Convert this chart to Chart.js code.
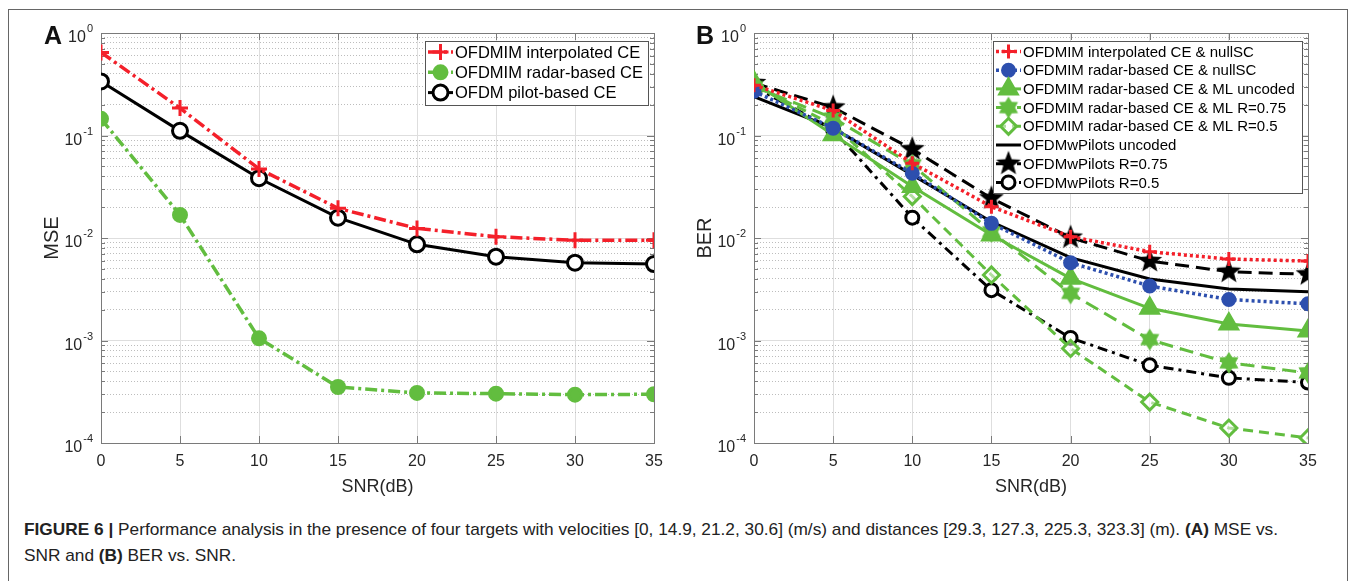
<!DOCTYPE html>
<html>
<head>
<meta charset="utf-8">
<script src="https://cdn.jsdelivr.net/npm/chart.js@4/dist/chart.umd.min.js"></script>
<style>
body { margin: 0; background: #fff; width: 1356px; height: 581px; overflow: hidden; position: relative; font-family: "Liberation Sans", Arial, sans-serif; }
#frame { position: absolute; left: 8px; top: 9px; width: 1338px; height: 620px; border: 1px solid #666; }
.wrap { position: absolute; top: 0; width: 678px; height: 500px; }
#wrapA { left: 0; }
#wrapB { left: 678px; }
.tag { position: absolute; top: 21px; font-weight: bold; font-size: 25px; color: #111; }
#caption { position: absolute; left: 24px; top: 517px; font-size: 17px; line-height: 26px; color: #222; white-space: nowrap; transform-origin: 0 0; }
#caption b { font-weight: bold; }
</style>
</head>
<body>
<div id="frame"></div>
<div class="wrap" id="wrapA"><canvas id="chartA" width="678" height="500"></canvas></div>
<div class="wrap" id="wrapB"><canvas id="chartB" width="678" height="500"></canvas></div>
<div class="tag" style="left:44px">A</div>
<div class="tag" style="left:696px">B</div>
<div id="caption"><span id="line1"><b>FIGURE 6 | </b>Performance analysis in the presence of four targets with velocities [0, 14.9, 21.2, 30.6] (m/s) and distances [29.3, 127.3, 225.3, 323.3] (m). <b>(A)</b> MSE vs.</span><br>SNR and <b>(B)</b> BER vs. SNR.</div>
<script>
// SNR points (x axis)
var snr = [0, 5, 10, 15, 20, 25, 30, 35];
var xTicks = [0, 5, 10, 15, 20, 25, 30, 35];
var yTickVals = [1e-4, 1e-3, 1e-2, 1e-1, 1];
var yTickExp = ['-4', '-3', '-2', '-1', '0'];

// panel A : MSE
var mseInterp = [0.647, 0.185, 0.0472, 0.0195, 0.0124, 0.0103, 0.0095, 0.0095];
var mseRadar  = [0.1455, 0.0168, 0.00105, 0.000352, 0.000308, 0.000303, 0.000296, 0.000299];
var msePilot  = [0.337, 0.111, 0.0383, 0.0158, 0.00867, 0.00657, 0.00574, 0.00557];

// panel B : BER
var berInterpNull = [0.31, 0.175, 0.0537, 0.0202, 0.0103, 0.00735, 0.00623, 0.00596];
var berRadarNull  = [0.27, 0.118, 0.0428, 0.0139, 0.00574, 0.0034, 0.00251, 0.00228];
var berRadarMlUnc = [0.33, 0.1015, 0.0318, 0.0107, 0.00404, 0.00206, 0.00145, 0.00124];
var berRadarMl075 = [0.30, 0.148, 0.0517, 0.0115, 0.00288, 0.00102, 0.000605, 0.000483];
var berRadarMl05  = [0.31, 0.127, 0.0254, 0.00436, 0.000836, 0.000251, 0.00014, 0.000112];
var berPilotUnc   = [0.24, 0.118, 0.0413, 0.0144, 0.00643, 0.00398, 0.00318, 0.00299];
var berPilot075   = [0.325, 0.188, 0.0735, 0.0244, 0.0101, 0.00596, 0.00469, 0.00442];
var berPilot05    = [0.30, 0.114, 0.0158, 0.0031, 0.00106, 0.000574, 0.000432, 0.000389];

var RED = '#f4202a', GREEN = '#62bd3f', BLUE = '#2d4fae', BLACK = '#000';
var FONT = '"Liberation Sans", Arial, sans-serif';

function pts(arr) { return arr.map(function (v, i) { return { x: snr[i], y: v }; }); }

// minor grid positions 2..9 of every decade
var minorVals = [];
for (var d = -4; d < 0; d++) for (var m = 2; m <= 9; m++) minorVals.push(m * Math.pow(10, d));

// custom marker shapes
function makeStar(r, color) {
  var c = document.createElement('canvas');
  c.width = c.height = 2 * r + 2;
  var g = c.getContext('2d');
  g.translate(r + 1, r + 1);
  g.beginPath();
  for (var i = 0; i < 10; i++) {
    var rr = i % 2 ? r * 0.42 : r;
    var a = -Math.PI / 2 + i * Math.PI / 5;
    g.lineTo(rr * Math.cos(a), rr * Math.sin(a));
  }
  g.closePath();
  g.fillStyle = color; g.fill();
  return c;
}
function makeHex(r, color) {
  var c = document.createElement('canvas');
  c.width = c.height = 2 * r + 2;
  var g = c.getContext('2d');
  g.translate(r + 1, r + 1);
  g.beginPath();
  for (var i = 0; i < 12; i++) {
    var rr = i % 2 ? r * 0.6 : r;
    var a = -Math.PI / 2 + i * Math.PI / 6;
    g.lineTo(rr * Math.cos(a), rr * Math.sin(a));
  }
  g.closePath();
  g.fillStyle = color; g.fill();
  return c;
}
var starImg = makeStar(13, BLACK);
var hexImg = makeHex(11, GREEN);

// superscript decade labels + matlab style box
var axisDeco = {
  id: 'axisDeco',
  beforeDatasetsDraw: function (chart) {
    var ctx = chart.ctx, a = chart.chartArea, y = chart.scales.y, x = chart.scales.x;
    ctx.save();
    ctx.strokeStyle = '#7a7a7a';
    ctx.lineWidth = 1;
    ctx.beginPath();
    minorVals.forEach(function (v) {
      var p = Math.round(y.getPixelForValue(v)) + 0.5;
      ctx.moveTo(a.left, p); ctx.lineTo(a.left + 4, p);
      ctx.moveTo(a.right, p); ctx.lineTo(a.right - 4, p);
    });
    yTickVals.forEach(function (v) {
      var p = Math.round(y.getPixelForValue(v)) + 0.5;
      ctx.moveTo(a.left, p); ctx.lineTo(a.left + 7, p);
      ctx.moveTo(a.right, p); ctx.lineTo(a.right - 7, p);
    });
    xTicks.forEach(function (v) {
      var p = Math.round(x.getPixelForValue(v)) + 0.5;
      ctx.moveTo(p, a.bottom); ctx.lineTo(p, a.bottom - 7);
      ctx.moveTo(p, a.top); ctx.lineTo(p, a.top + 7);
    });
    ctx.stroke();
    ctx.strokeRect(Math.round(a.left) + 0.5, Math.round(a.top) + 0.5, Math.round(a.right - a.left), Math.round(a.bottom - a.top));
    ctx.restore();
  },
  afterDraw: function (chart) {
    var ctx = chart.ctx, y = chart.scales.y, a = chart.chartArea;
    ctx.save();
    ctx.fillStyle = '#262626';
    ctx.textBaseline = 'middle';
    ctx.textAlign = 'left';
    yTickVals.forEach(function (v, i) {
      var p = y.getPixelForValue(v);
      ctx.font = '11px ' + FONT;
      var ew = ctx.measureText(yTickExp[i]).width;
      ctx.font = '16px ' + FONT;
      var bw = ctx.measureText('10').width;
      var right = a.left - 8;
      ctx.fillText('10', right - ew - bw - 1, p + 5);
      ctx.font = '11px ' + FONT;
      ctx.fillText(yTickExp[i], right - ew, p - 4);
    });
    ctx.restore();
  }
};

// legend box drawn inside the axes
var boxLegend = {
  id: 'boxLegend',
  afterDraw: function (chart, args, o) {
    var ctx = chart.ctx;
    ctx.save();
    ctx.fillStyle = '#fff';
    ctx.fillRect(o.x, o.y, o.w, o.h);
    ctx.strokeStyle = '#555';
    ctx.lineWidth = 1;
    ctx.strokeRect(o.x + 0.5, o.y + 0.5, o.w, o.h);
    chart.data.datasets.forEach(function (ds, i) {
      var cy = o.y + o.first + i * o.rowH;
      var x0 = o.x + 3, x1 = o.x + o.sample;
      ctx.save();
      ctx.strokeStyle = ds.borderColor;
      ctx.lineWidth = ds.borderWidth;
      ctx.setLineDash(ds.borderDash || []);
      ctx.beginPath(); ctx.moveTo(x0, cy); ctx.lineTo(x1, cy); ctx.stroke();
      ctx.restore();
      if (ds.pointRadius > 0) {
        ctx.save();
        ctx.fillStyle = ds.pointBackgroundColor;
        ctx.strokeStyle = ds.pointBorderColor;
        ctx.lineWidth = ds.pointBorderWidth;
        ctx.setLineDash([]);
        Chart.helpers.drawPoint(ctx, {
          pointStyle: ds.pointStyle, rotation: 0, radius: ds.pointRadius,
          borderWidth: ds.pointBorderWidth
        }, (x0 + x1) / 2, cy);
        ctx.restore();
      }
      ctx.fillStyle = '#000';
      ctx.font = o.font + 'px ' + FONT;
      ctx.textBaseline = 'middle';
      ctx.fillText(ds.label, o.x + o.sample + 2, cy + 1);
    });
    ctx.restore();
  }
};

function series(label, data, color, dash, width, style, radius, fill) {
  return {
    label: label, data: pts(data), borderColor: color, borderWidth: width, borderDash: dash,
    pointStyle: style, pointRadius: radius, pointHoverRadius: radius,
    pointBackgroundColor: fill, pointBorderColor: color, pointBorderWidth: 3,
    fill: false, tension: 0
  };
}

function scales(title, titlePad, yWidth) {
  return {
    x: {
      type: 'linear', min: 0, max: 35,
      afterBuildTicks: function (s) { s.ticks = xTicks.map(function (v) { return { value: v }; }); },
      afterFit: function (s) { s.height = 57; },
      grid: { color: '#dedede', drawTicks: false },
      border: { color: '#7a7a7a' },
      ticks: { color: '#262626', font: { family: FONT, size: 16 }, padding: 9, maxRotation: 0 },
      title: { display: true, text: 'SNR(dB)', color: '#262626', font: { family: FONT, size: 18 }, padding: { top: 0, bottom: 2 } }
    },
    y: {
      type: 'logarithmic', min: 1e-4, max: 1,
      afterBuildTicks: function (s) { s.ticks = yTickVals.map(function (v) { return { value: v }; }); },
      afterFit: function (s) { s.width = yWidth; },
      grid: { color: '#dedede', drawTicks: false },
      border: { color: '#7a7a7a' },
      ticks: { display: false },
      title: { display: true, text: title, color: '#262626', font: { family: FONT, size: 20 }, padding: { top: titlePad, bottom: 0 } }
    },
    yMinor: {
      type: 'logarithmic', min: 1e-4, max: 1, position: 'left',
      afterBuildTicks: function (s) { s.ticks = minorVals.map(function (v) { return { value: v }; }); },
      afterFit: function (s) { s.width = 0; },
      grid: { color: '#bdbdbd', drawTicks: false },
      border: { display: false, dash: [1, 2] },
      ticks: { display: false }
    }
  };
}

Chart.defaults.font.family = FONT;

new Chart(document.getElementById('chartA'), {
  type: 'line',
  data: {
    datasets: [
      series('OFDMIM interpolated CE', mseInterp, RED, [12, 4, 3, 4], 3.5, 'cross', 8, RED),
      series('OFDMIM radar-based CE', mseRadar, GREEN, [12, 4, 3, 4], 3.5, 'circle', 6.5, GREEN),
      series('OFDM pilot-based CE', msePilot, BLACK, [], 3, 'circle', 7.5, '#fff')
    ]
  },
  options: {
    responsive: false, animation: false, devicePixelRatio: 1,
    layout: { padding: { left: 0, right: 24, top: 33, bottom: 0 } },
    plugins: {
      legend: { display: false }, tooltip: { enabled: false },
      boxLegend: { x: 425, y: 41, w: 223, h: 64, first: 11, rowH: 20.3, sample: 28, font: 16.5 }
    },
    scales: scales('MSE', 40, 101)
  },
  plugins: [axisDeco, boxLegend]
});

new Chart(document.getElementById('chartB'), {
  type: 'line',
  data: {
    datasets: [
      series('OFDMIM interpolated CE & nullSC', berInterpNull, RED, [3, 3], 3.5, 'cross', 7, RED),
      series('OFDMIM radar-based CE & nullSC', berRadarNull, BLUE, [3, 3], 3.5, 'circle', 6, BLUE),
      series('OFDMIM radar-based CE & ML uncoded', berRadarMlUnc, GREEN, [], 3, 'triangle', 10, GREEN),
      series('OFDMIM radar-based CE & ML R=0.75', berRadarMl075, GREEN, [14, 7], 3, hexImg, 11, GREEN),
      series('OFDMIM radar-based CE & ML R=0.5', berRadarMl05, GREEN, [10, 6], 3, 'rectRot', 8, 'rgba(255,255,255,0.5)'),
      series('OFDMwPilots uncoded', berPilotUnc, BLACK, [], 3, 'circle', 0, BLACK),
      series('OFDMwPilots R=0.75', berPilot075, BLACK, [14, 7], 3, starImg, 13, BLACK),
      series('OFDMwPilots R=0.5', berPilot05, BLACK, [10, 5, 3, 5], 3, 'circle', 6.5, '#fff')
    ]
  },
  options: {
    responsive: false, animation: false, devicePixelRatio: 1,
    layout: { padding: { left: 0, right: 48, top: 33, bottom: 0 } },
    plugins: {
      legend: { display: false }, tooltip: { enabled: false },
      boxLegend: { x: 315, y: 41, w: 309, h: 152, first: 10.5, rowH: 18.7, sample: 28, font: 15 }
    },
    scales: scales('BER', 15, 76)
  },
  plugins: [axisDeco, boxLegend]
});

// fit the caption's first line to the width it has in the figure
var line1 = document.getElementById('line1');
var cap = document.getElementById('caption');
var k = 1254 / line1.getBoundingClientRect().width;
cap.style.transform = 'scaleX(' + k + ')';
</script>
</body>
</html>
